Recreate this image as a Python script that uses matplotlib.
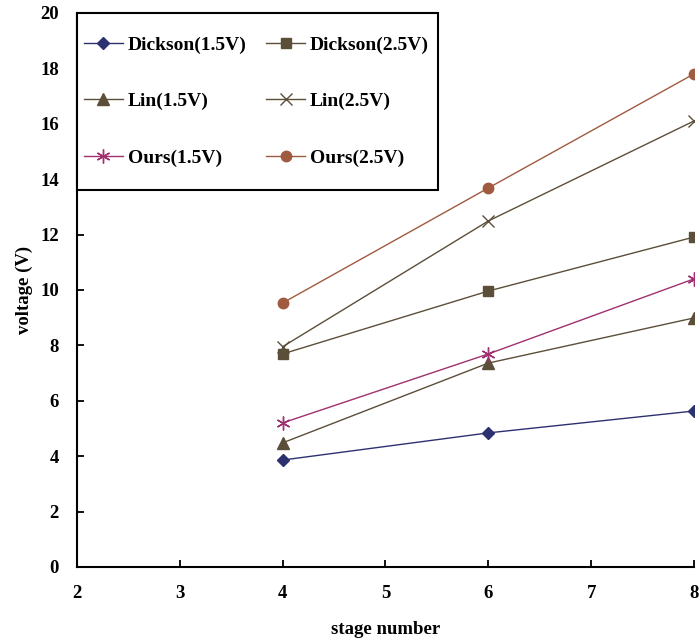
import numpy as np
import matplotlib.pyplot as plt
from matplotlib.patches import Rectangle

stages = [4, 6, 8]
dickson_15 = [3.86, 4.84, 5.63]
dickson_25 = [7.69, 9.96, 11.91]
lin_15 = [4.48, 7.36, 8.99]
lin_25 = [7.95, 12.49, 16.1]
ours_15 = [5.2, 7.69, 10.4]
ours_25 = [9.53, 13.68, 17.8]

plt.rcParams['font.family'] = ['Liberation Serif', 'DejaVu Serif']
plt.rcParams['font.weight'] = 'bold'

fig = plt.figure(figsize=(6.99, 6.44), dpi=100)
ax = fig.add_axes([0.110, 0.1196, 0.883, 0.8604])

d15, = ax.plot(stages, dickson_15, color='#2e3170', marker='D', ms=6, lw=1, label='Dickson(1.5V)')
d25, = ax.plot(stages, dickson_25, color='#5c4f3a', marker='s', ms=7.5, lw=1, label='Dickson(2.5V)')
l15, = ax.plot(stages, lin_15, color='#5c4f3a', marker='^', ms=8, lw=1, label='Lin(1.5V)')
l25, = ax.plot(stages, lin_25, color='#5c4f3a', marker='x', ms=8, mew=1, lw=1, label='Lin(2.5V)')
o15, = ax.plot(stages, ours_15, color='#a03070', marker=(6, 2, 0), ms=10, mew=1, lw=1, label='Ours(1.5V)')
o25, = ax.plot(stages, ours_25, color='#a05a40', marker='o', ms=7.5, lw=1, label='Ours(2.5V)')

ax.set_xlim(2, 8)
ax.set_ylim(0, 20)
ax.set_xticks(range(2, 9))
ax.set_yticks(range(0, 21, 2))
ax.spines['top'].set_visible(False)
ax.spines['right'].set_visible(False)
ax.spines['left'].set_linewidth(1.5)
ax.spines['bottom'].set_linewidth(1.5)
ax.tick_params(direction='in', length=5, width=1.3, labelsize=13.5, pad=13)
ax.set_xlabel('stage number', fontsize=13.5, fontweight='bold', labelpad=14)
ax.set_ylabel('voltage (V)', fontsize=13.5, fontweight='bold', labelpad=5)

# legend box drawn separately so the padding can differ horizontally/vertically
box = Rectangle((0.110, 0.705), 0.5165, 0.2753, transform=fig.transFigure,
                facecolor='white', edgecolor='black', lw=1.5, zorder=4, clip_on=False)
ax.add_patch(box)

# row-major order for a 2-column legend
handles = [d15, l15, o15, d25, l25, o25]
leg = ax.legend(handles=handles, loc='upper left', bbox_to_anchor=(0.120, 0.944),
                bbox_transform=fig.transFigure, borderaxespad=0, ncol=2,
                fontsize=14, frameon=False, handlelength=2.0, labelspacing=2.0,
                columnspacing=1.0, borderpad=0, handletextpad=0.26)
leg.set_zorder(5)

fig.savefig('out.png', dpi=100)
